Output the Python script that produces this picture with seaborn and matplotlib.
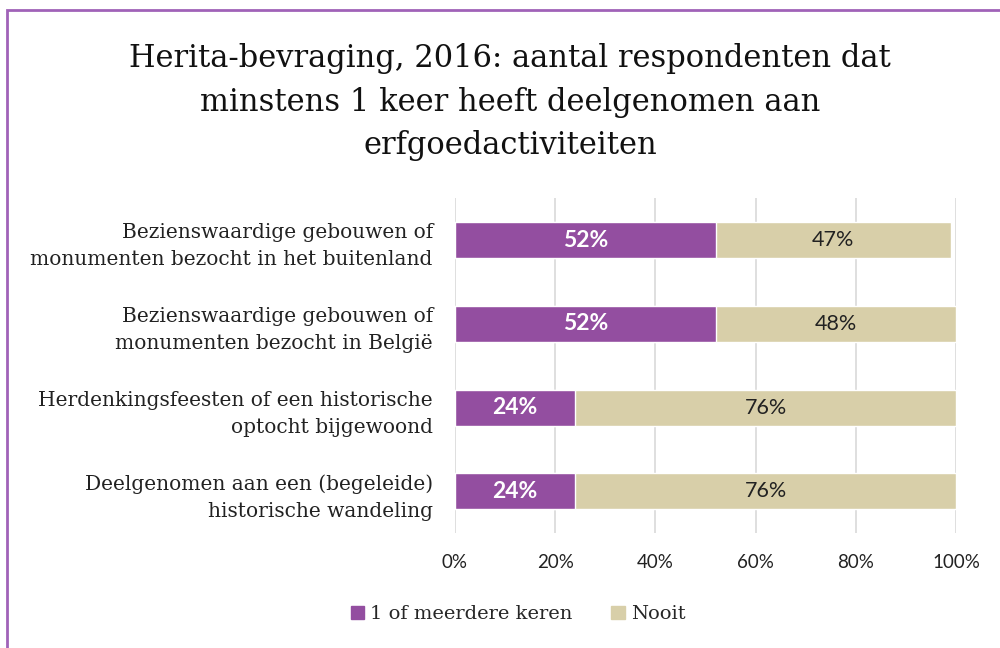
import numpy as np
import pandas as pd
import seaborn as sns
import matplotlib.pyplot as plt
from matplotlib.patches import Rectangle, Patch

# data
categories = [
    "Bezienswaardige gebouwen of\nmonumenten bezocht in het buitenland",
    "Bezienswaardige gebouwen of\nmonumenten bezocht in België",
    "Herdenkingsfeesten of een historische\noptocht bijgewoond",
    "Deelgenomen aan een (begeleide)\nhistorische wandeling",
]
minstens_1 = [52, 52, 24, 24]
nooit = [47, 48, 76, 76]
series_names = ["1 of meerdere keren", "Nooit"]
ticks = [0, 20, 40, 60, 80, 100]

purple = "#934ea0"
beige = "#d8cfa9"

df = pd.DataFrame({"cat": categories, "een": minstens_1, "nooit": nooit})
df["totaal"] = df["een"] + df["nooit"]

sns.set_theme(style="white")
plt.rcParams["font.family"] = ["DejaVu Serif"]

fig = plt.figure(figsize=(10, 6.48), dpi=100)
ax = fig.add_axes([0.455, 0.177, 0.501, 0.517])

# stacked: total in beige underneath, purple share on top
sns.barplot(data=df, y="cat", x="totaal", color=beige, orient="h", width=0.43,
            saturation=1, ax=ax)
sns.barplot(data=df, y="cat", x="een", color=purple, orient="h", width=0.43,
            saturation=1, ax=ax)

ax.set_xlim(0, 100)
ax.set_ylim(3.5, -0.5)
ax.set_xticks(ticks)
ax.set_xticklabels([f"{t}%" for t in ticks], family="Lato", fontsize=13.5, color="#222222")
ax.tick_params(axis="x", length=0, pad=15)
ax.tick_params(axis="y", length=0, pad=16)
for lab in ax.get_yticklabels():
    lab.set_fontsize(14.5)
    lab.set_color("#222222")
    lab.set_linespacing(1.55)
ax.set_xlabel("")
ax.set_ylabel("")
ax.grid(axis="x", color="#d9d9d9", linewidth=1.2)
ax.set_axisbelow(True)
for s in ax.spines.values():
    s.set_visible(False)

# bar labels: the nooit part sits centred in its own segment
for i, (a, b) in enumerate(zip(minstens_1, nooit)):
    ax.text(a / 2, i, f"{a}%", ha="center", va="center", color="white",
            family="Lato", fontweight="bold", fontsize=16.5)
    ax.text(a + b / 2, i, f"{b}%", ha="center", va="center", color="#222222",
            family="Lato", fontsize=15.5)

fig.text(0.51, 0.842, "Herita-bevraging, 2016: aantal respondenten dat\n"
         "minstens 1 keer heeft deelgenomen aan\nerfgoedactiviteiten",
         ha="center", va="center", fontsize=22, linespacing=1.52, color="#111111")

handles = [Patch(color=purple), Patch(color=beige)]
fig.legend(handles, series_names, loc="center", bbox_to_anchor=(0.518, 0.052),
           ncol=2, frameon=False, fontsize=14, handlelength=0.7, handleheight=0.7,
           handletextpad=0.3, columnspacing=2.0)

fig.patches.append(Rectangle((0.007, -0.05), 1.1, 0.9846 + 0.05, transform=fig.transFigure,
                             fill=False, edgecolor="#a062b8", linewidth=2))

fig.savefig("out.png", dpi=100)
